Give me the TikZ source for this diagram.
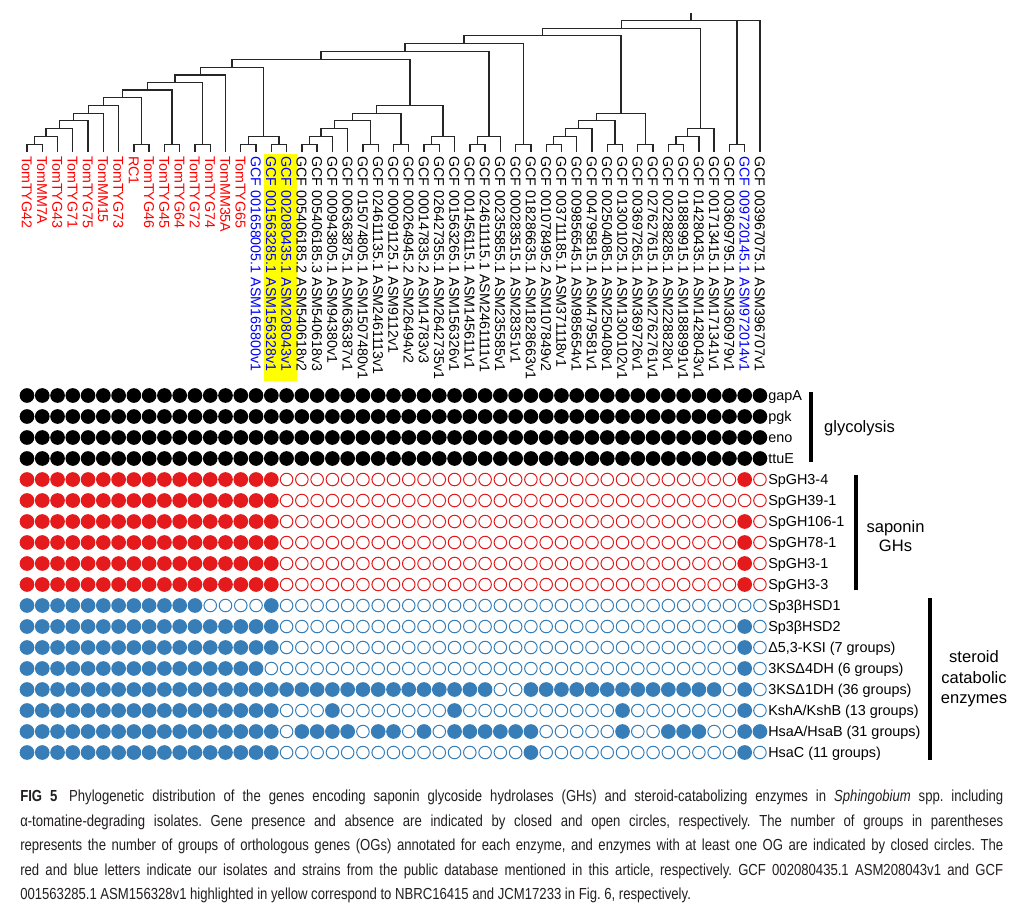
\documentclass[tikz,border=0pt]{standalone}
\usepackage{fontspec}
\usepackage{graphicx}
\setmainfont{Liberation Sans}
\usetikzlibrary{calc}
\frenchspacing
\definecolor{dotred}{HTML}{E41A1C}
\definecolor{dotblue}{HTML}{377EB8}
\definecolor{labred}{HTML}{FF0000}
\definecolor{labblue}{HTML}{0000FF}
\definecolor{hl}{HTML}{FFFF00}
\definecolor{capgray}{HTML}{231F20}
\definecolor{treegray}{HTML}{262626}
\newcommand\mkclade[4]{%
  \coordinate (tmpc) at ($(#2)!0.5!(#3)$);
  \coordinate (#1) at (tmpc |- 0,#4);
  \draw[treeline] (#2) |- (#1) -| (#3);
}
\newcommand\mkdotrow[3]{%
  \foreach \c in {1,...,49}{\draw[dotopen,draw=#2] ({27+15.27*(\c-1)},{395.5+21*(#1-1)}) circle[radius=4.7pt];}
  \foreach \c in {#3}{\fill[#2] ({27+15.27*(\c-1)},{395.5+21*(#1-1)}) circle[radius=5.5pt];}
}
\begin{document}
\begin{tikzpicture}[x=0.75pt,y=-0.75pt,
  treeline/.style={draw=treegray,line width=1pt},
  tip/.style={rotate=-90,anchor=west,inner sep=0pt,font=\fontsize{10.7pt}{12pt}\selectfont,text height=7.7pt,text depth=0pt},
  rowlab/.style={anchor=base west,inner sep=0pt,font=\fontsize{10.8pt}{12pt}\selectfont},
  grouplab/.style={align=center,inner sep=0pt,font=\fontsize{12.4pt}{14.8pt}\selectfont},
  groupbar/.style={line width=3pt},
  dotopen/.style={line width=0.75pt},
  capline/.style={anchor=base west,inner sep=0pt,text=capgray,font=\fontsize{12pt}{14pt}\selectfont}]
\useasboundingbox (0,0) rectangle (1024,908);
\fill[white] (0,0) rectangle (1024,908);

% yellow highlight
\fill[hl] (264,154) rectangle (296.5,380.5);

% tip labels
\foreach \c/\t/\k in {
 1/TomTYG42/labred, 2/TomMM7A/labred, 3/TomTYG43/labred, 4/TomTYG71/labred,
 5/TomTYG75/labred, 6/TomMM15/labred, 7/TomTYG73/labred, 8/RC1/labred,
 9/TomTYG46/labred, 10/TomTYG45/labred, 11/TomTYG64/labred, 12/TomTYG72/labred,
 13/TomTYG74/labred, 14/TomMM35A/labred, 15/TomTYG65/labred,
 16/GCF 001658005.1 ASM165800v1/labblue,
 17/GCF 001563285.1 ASM156328v1/labblue,
 18/GCF 002080435.1 ASM208043v1/labblue,
 19/GCF 005406185.2 ASM540618v2/black,
 20/GCF 005406185.3 ASM540618v3/black,
 21/GCF 000943805.1 ASM94380v1/black,
 22/GCF 006363875.1 ASM636387v1/black,
 23/GCF 015074805.1 ASM1507480v1/black,
 24/GCF 024611135.1 ASM2461113v1/black,
 25/GCF 000091125.1 ASM9112v1/black,
 26/GCF 000264945.2 ASM26494v2/black,
 27/GCF 000147835.2 ASM14783v3/black,
 28/GCF 026427355.1 ASM2642735v1/black,
 29/GCF 001563265.1 ASM156326v1/black,
 30/GCF 001456115.1 ASM145611v1/black,
 31/GCF 024611115.1 ASM2461111v1/black,
 32/GCF 002355855.1 ASM235585v1/black,
 33/GCF 000283515.1 ASM28351v1/black,
 34/GCF 018286635.1 ASM1828663v1/black,
 35/GCF 001078495.2 ASM107849v2/black,
 36/GCF 003711185.1 ASM371118v1/black,
 37/GCF 009856545.1 ASM985654v1/black,
 38/GCF 004795815.1 ASM479581v1/black,
 39/GCF 002504085.1 ASM250408v1/black,
 40/GCF 013001025.1 ASM1300102v1/black,
 41/GCF 003697265.1 ASM369726v1/black,
 42/GCF 027627615.1 ASM2762761v1/black,
 43/GCF 002288285.1 ASM228828v1/black,
 44/GCF 018889915.1 ASM1888991v1/black,
 45/GCF 014280435.1 ASM1428043v1/black,
 46/GCF 001713415.1 ASM171341v1/black,
 47/GCF 003609795.1 ASM360979v1/black,
 48/GCF 009720145.1 ASM972014v1/labblue,
 49/GCF 003967075.1 ASM396707v1/black}
 {\node[tip,text=\k] (t\c) at ({27+15.27*(\c-1)},156) {\t};}

% leaves
\foreach \c in {1,...,49} \coordinate (l\c) at ({27+15.27*(\c-1)},152);

% tree
\mkclade{A1}{l1}{l2}{144.3}
\mkclade{A2}{A1}{l3}{136.5}
\mkclade{A3}{A2}{l4}{128.5}
\mkclade{A4}{A3}{l5}{120.7}
\mkclade{A5}{A4}{l6}{113.3}
\mkclade{A6}{A5}{l7}{105.5}
\mkclade{B}{l8}{l9}{144.3}
\mkclade{A7}{A6}{B}{97.7}
\mkclade{C}{l10}{l11}{144.3}
\mkclade{A8}{A7}{C}{90}
\mkclade{D}{l12}{l13}{144.3}
\mkclade{A9}{A8}{D}{82.3}
\mkclade{A10}{A9}{l14}{75}
\mkclade{E1}{l15}{l16}{144.3}
\mkclade{E2}{l17}{l18}{144.3}
\mkclade{E}{E1}{E2}{136.5}
\mkclade{A11}{A10}{E}{67.3}
\mkclade{F1}{l19}{l20}{144.3}
\mkclade{F2}{F1}{l21}{136.5}
\mkclade{F3}{F2}{l22}{128.5}
\mkclade{G}{l23}{l24}{144.3}
\mkclade{F4}{F3}{G}{120.7}
\mkclade{H}{l25}{l26}{144.3}
\mkclade{F5}{F4}{H}{113.3}
\mkclade{I1}{l27}{l28}{144.3}
\mkclade{I2}{I1}{l29}{136.5}
\mkclade{F6}{F5}{I2}{105.5}
\mkclade{A12}{A11}{F6}{59.5}
\mkclade{J1}{l30}{l31}{144.3}
\mkclade{J2}{J1}{l32}{136.5}
\mkclade{A13}{A12}{J2}{51.7}
\mkclade{K}{l33}{l34}{144.3}
\mkclade{A14}{A13}{K}{43.5}
\mkclade{M1}{l35}{l36}{144.3}
\mkclade{M2}{M1}{l37}{136.5}
\mkclade{M3}{M2}{l38}{128.5}
\mkclade{N}{l39}{l40}{144.3}
\mkclade{M4}{M3}{N}{120.7}
\mkclade{O}{l41}{l42}{144.3}
\mkclade{M5}{M4}{O}{113.3}
\mkclade{A15}{A14}{M5}{35.7}
\mkclade{P1}{l43}{l44}{144.3}
\mkclade{P2}{P1}{l45}{136.5}
\mkclade{P3}{P2}{l46}{128.5}
\mkclade{A16}{A15}{P3}{28.3}
\mkclade{Q}{l47}{l48}{144.3}
\mkclade{R}{A16}{l49}{20.7}
\draw[treeline] (Q) -- (Q |- R);
\coordinate (Rtop) at (R |- 0,13.3);
\draw[treeline] (R) -- (Rtop);

% dot matrix
\mkdotrow{1}{black}{1,...,49}
\mkdotrow{2}{black}{1,...,49}
\mkdotrow{3}{black}{1,...,49}
\mkdotrow{4}{black}{1,...,49}
\mkdotrow{5}{dotred}{1,...,17,48}
\mkdotrow{6}{dotred}{1,...,17}
\mkdotrow{7}{dotred}{1,...,17,48}
\mkdotrow{8}{dotred}{1,...,17,48}
\mkdotrow{9}{dotred}{1,...,17,48}
\mkdotrow{10}{dotred}{1,...,17,48}
\mkdotrow{11}{dotblue}{1,...,12,17}
\mkdotrow{12}{dotblue}{1,...,17,48}
\mkdotrow{13}{dotblue}{1,...,17,48}
\mkdotrow{14}{dotblue}{1,...,16,48}
\mkdotrow{15}{dotblue}{1,...,31,34,35,36,37,38,39,40,41,42,43,44,45,46,48}
\mkdotrow{16}{dotblue}{1,...,17,21,29,40,48}
\mkdotrow{17}{dotblue}{1,...,17,19,20,21,22,24,25,27,29,30,31,32,33,34,40,43,44,45,48,49}
\mkdotrow{18}{dotblue}{1,...,17,34,48}

% row labels
\node[rowlab] (r1) at (768,400.6) {gapA};
\node[rowlab] (r2) at (768,421.6) {pgk};
\node[rowlab] (r3) at (768,442.6) {eno};
\node[rowlab] (r4) at (768,463.6) {ttuE};
\node[rowlab] (r5) at (768,484.6) {SpGH3-4};
\node[rowlab] (r6) at (768,505.6) {SpGH39-1};
\node[rowlab] (r7) at (768,526.6) {SpGH106-1};
\node[rowlab] (r8) at (768,547.6) {SpGH78-1};
\node[rowlab] (r9) at (768,568.6) {SpGH3-1};
\node[rowlab] (r10) at (768,589.6) {SpGH3-3};
\node[rowlab] (r11) at (768,610.6) {Sp3βHSD1};
\node[rowlab] (r12) at (768,631.6) {Sp3βHSD2};
\node[rowlab] (r13) at (768,652.6) {Δ5,3-KSI (7 groups)};
\node[rowlab] (r14) at (768,673.6) {3KSΔ4DH (6 groups)};
\node[rowlab] (r15) at (768,694.6) {3KSΔ1DH (36 groups)};
\node[rowlab] (r16) at (768,715.6) {KshA/KshB (13 groups)};
\node[rowlab] (r17) at (768,736.6) {HsaA/HsaB (31 groups)};
\node[rowlab] (r18) at (768,757.6) {HsaC (11 groups)};

% group bars and labels
\draw[groupbar] (811,392) -- (811,462);
\draw[groupbar] (856,475) -- (856,590);
\draw[groupbar] (930,598) -- (930,760);
\node[grouplab] (glyc) at (859.5,428) {glycolysis};
\node[grouplab,font=\fontsize{12.4pt}{13.8pt}\selectfont] (sapo) at (895.5,536) {saponin\\GHs};
\node[grouplab,font=\fontsize{12.4pt}{15.4pt}\selectfont] (ster) at (974,679) {steroid\\catabolic\\enzymes};

% caption
\node[capline] (cap1) at (20,801.5) {\scalebox{0.82}[1]{\makebox[899.1pt][s]{\textbf{FIG 5}\hspace{0.9em}Phylogenetic distribution of the genes encoding saponin glycoside hydrolases (GHs) and steroid-catabolizing enzymes in \textit{Sphingobium} spp. including}}};
\node[capline] (cap2) at (20,826) {\scalebox{0.82}[1]{\makebox[899.1pt][s]{α-tomatine-degrading isolates. Gene presence and absence are indicated by closed and open circles, respectively. The number of groups in parentheses}}};
\node[capline] (cap3) at (20,850.5) {\scalebox{0.82}[1]{\makebox[899.1pt][s]{represents the number of groups of orthologous genes (OGs) annotated for each enzyme, and enzymes with at least one OG are indicated by closed circles. The}}};
\node[capline] (cap4) at (20,875) {\scalebox{0.82}[1]{\makebox[899.1pt][s]{red and blue letters indicate our isolates and strains from the public database mentioned in this article, respectively. GCF 002080435.1 ASM208043v1 and GCF}}};
\node[capline] (cap5) at (20,899.5) {\scalebox{0.82}[1]{001563285.1 ASM156328v1 highlighted in yellow correspond to NBRC16415 and JCM17233 in Fig. 6, respectively.}};
\end{tikzpicture}
\end{document}
